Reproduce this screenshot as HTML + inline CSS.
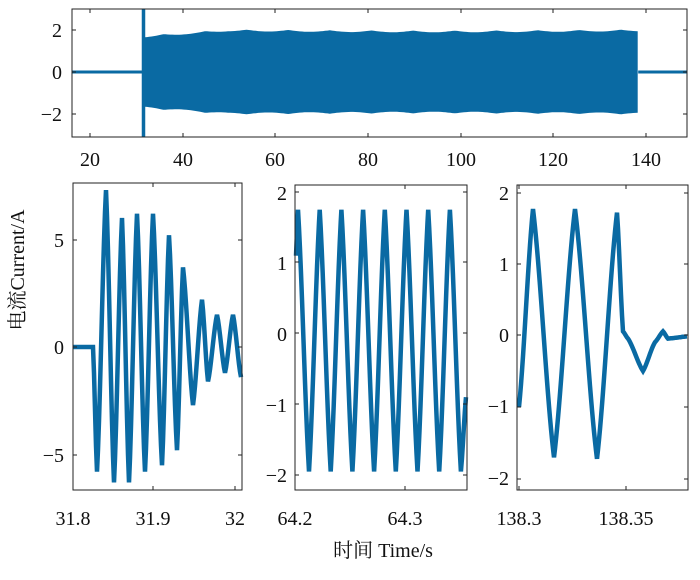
<!DOCTYPE html>
<html><head><meta charset="utf-8"><style>
html,body{margin:0;padding:0;background:#fff;}
svg text{font-family:"Liberation Serif","Noto Serif CJK SC",serif;font-size:20px;fill:#111;}
</style></head><body>
<svg id="s" width="700" height="575" viewBox="0 0 700 575" xmlns="http://www.w3.org/2000/svg">
<g id="g"></g>
<text x="62" y="37" text-anchor="end">2</text>
<text x="62" y="79" text-anchor="end">0</text>
<text x="62" y="121" text-anchor="end">−2</text>
<g text-anchor="middle">
<text x="90" y="166">20</text><text x="183" y="166">40</text><text x="275" y="166">60</text><text x="368" y="166">80</text><text x="461" y="166">100</text><text x="553" y="166">120</text><text x="646" y="166">140</text>
</g>
<text x="64" y="247" text-anchor="end">5</text>
<text x="64" y="354" text-anchor="end">0</text>
<text x="64" y="462" text-anchor="end">−5</text>
<g text-anchor="middle">
<text x="73" y="525">31.8</text><text x="153" y="525">31.9</text><text x="235" y="525">32</text>
</g>
<text x="287" y="200" text-anchor="end">2</text>
<text x="287" y="270" text-anchor="end">1</text>
<text x="287" y="341" text-anchor="end">0</text>
<text x="287" y="412" text-anchor="end">−1</text>
<text x="287" y="482" text-anchor="end">−2</text>
<g text-anchor="middle">
<text x="295" y="525">64.2</text><text x="405" y="525">64.3</text>
<text x="519" y="525">138.3</text><text x="626" y="525">138.35</text>
</g>
<text x="509" y="200" text-anchor="end">2</text>
<text x="509" y="271" text-anchor="end">1</text>
<text x="509" y="342" text-anchor="end">0</text>
<text x="509" y="413" text-anchor="end">−1</text>
<text x="509" y="485" text-anchor="end">−2</text>
<text x="383" y="557" text-anchor="middle">时间 Time/s</text>
<text transform="translate(24,270) rotate(-90)" text-anchor="middle">电流Current/A</text>
</svg>
<script>
var g=document.getElementById('g');var NS='http://www.w3.org/2000/svg';
function el(t,a){var e=document.createElementNS(NS,t);for(var k in a)e.setAttribute(k,a[k]);g.appendChild(e);return e;}
var C='#0a6aa3';
var tx=function(v){return 90+(v-20)*92.6/20;};var ty=function(v){return 72-v*21;};
var up=[],dn=[];
for(var x=31.8;x<=138.4;x+=0.5){var a=1.7+0.3*Math.min(1,(x-31.8)/18)-0.08*Math.abs(Math.sin(x*0.35))+0.03*Math.sin(x*0.05);
up.push(tx(x).toFixed(1)+','+ty(a).toFixed(1));dn.unshift(tx(x).toFixed(1)+','+ty(-a).toFixed(1));}
el('polygon',{points:up.concat(dn).join(' '),fill:C});
el('line',{x1:72,y1:72,x2:tx(31.8),y2:72,stroke:C,'stroke-width':3});
el('line',{x1:tx(138.4),y1:72,x2:687,y2:72,stroke:C,'stroke-width':3});
el('rect',{x:tx(31.5)-1.5,y:9,width:3.5,height:128,fill:C});
function axes(x0,y0,x1,y1,xt,yt){
 el('rect',{x:x0,y:y0,width:x1-x0,height:y1-y0,fill:'none',stroke:'#222','stroke-width':1});
 xt.forEach(function(x){el('line',{x1:x,y1:y1,x2:x,y2:y1-4,stroke:'#222'});el('line',{x1:x,y1:y0,x2:x,y2:y0+4,stroke:'#222'});});
 yt.forEach(function(y){el('line',{x1:x0,y1:y,x2:x0+4,y2:y,stroke:'#222'});el('line',{x1:x1,y1:y,x2:x1-4,y2:y,stroke:'#222'});});
}
axes(72,9,687,137,[90,183,275,368,461,553,646],[30,72,114]);
function wave(pts,mix){var s='';for(var i=0;i<pts.length-1;i++){var p=pts[i],q=pts[i+1];
 for(var x=p[0];x<q[0];x+=1){var t=(x-p[0])/(q[0]-p[0]);var f=mix*t+(1-mix)*(1-Math.cos(Math.PI*t))/2;var y=p[1]+(q[1]-p[1])*f;s+=(s?' L':'M')+x.toFixed(1)+','+y.toFixed(1);}}
 var l=pts[pts.length-1];s+=' L'+l[0]+','+l[1];
 el('path',{d:s,fill:'none',stroke:C,'stroke-width':4.5,'stroke-linejoin':'miter'});}
var ly=function(v){return 347-v*21.5;};
var L=[[73,0],[93,0],[97,-5.8],[106,7.3],[114,-6.3],[122,6],[129,-6.3],[137,6.2],[145,-5.8],[153,6.2],[162,-5.5],[169,5.2],[177,-4.8],[183,3.7],[193,-2.7],[202,2.2],[208,-1.6],[217,1.5],[225,-1.2],[233,1.5],[241,-1.4]];
wave(L.map(function(p){return [p[0],ly(p[1])];}),0.6);
axes(73,183,242,490,[73,153,235],[240,347,455]);
var my=function(v){return 333.5-v*70.75;};
var M=[[296,1.1],[298,1.75]];var x=298;
for(var k=0;k<8;k++){M.push([x+11,-1.95]);x+=21.7;if(x<=466)M.push([x,1.75]);}
M=M.filter(function(p){return p[0]<=466;});M.push([466,-0.9]);
wave(M.map(function(p){return [p[0],my(p[1])];}),0.7);
axes(295,185,467,490,[295,405],[192,262,333,404,475]);
var ry=function(v){return 335-v*72;};
var R=[[519,-1],[533,1.75],[554,-1.7],[575,1.75],[597,-1.72],[617,1.7],[623,0.05],[628,-0.05],[643,-0.5],[655,-0.1],[663,0.05],[668,-0.05],[687,-0.02]];
wave(R.map(function(p){return [p[0],ry(p[1])];}),0.7);
axes(517,185,688,490,[519,626],[193,264,335,407,479]);
</script>
</body></html>
